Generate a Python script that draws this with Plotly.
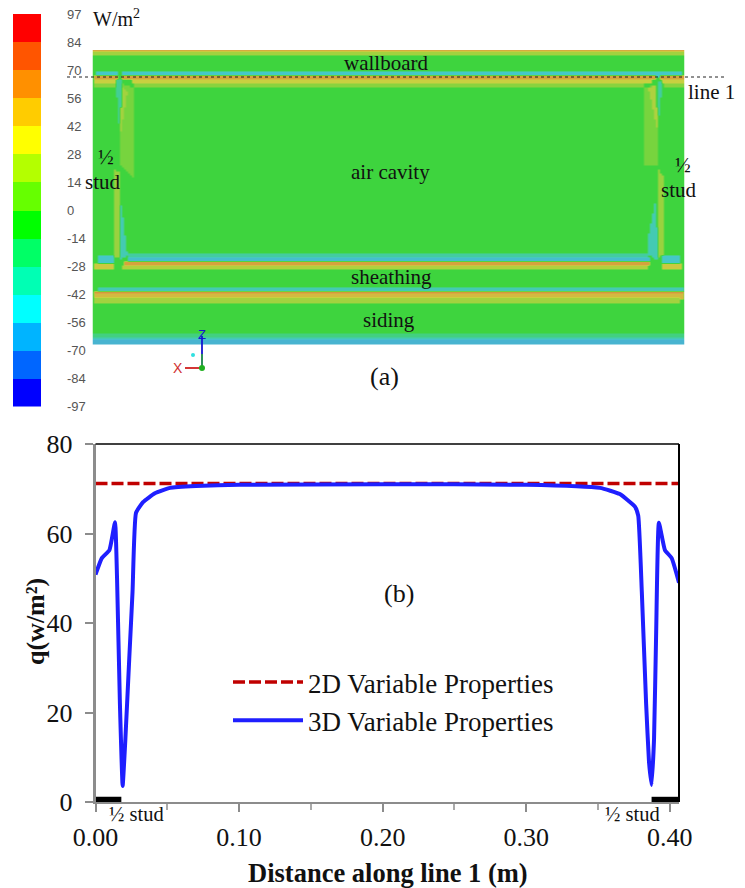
import numpy as np
import plotly.graph_objects as go

W, H = 745, 888

# ---------- data ----------
flux_x = [0, .0044, .0097, .0136, .0150, .0170, .0189, .0208, .0235, .0258, .0282, .0331, .0414, .052, .07,
          .10, .20, .30, .3513, .3652, .3757, .378, .3805, .3835, .3855, .3873, .3890, .3905, .3924, .3966, .4013, .4064]
flux_y = [50.8, 54.5, 56.3, 62.5, 50, 22, 3.6, 14, 32, 47, 64.6, 67, 69, 70.2, 70.6,
          70.9, 71, 70.9, 70.2, 68.8, 66, 64, 47, 22, 9, 3.8, 14, 38, 62.4, 56.3, 54.5, 49]
model2d_x = [0, .4064]
model2d_y = [71.2, 71.2]
stud_left_x = [-.001, .018]
stud_right_x = [.3873, .4064]
stud_y = [.55, .55]
x_ticks = [0, .10, .20, .30, .40]
x_labels = ["0.00", "0.10", "0.20", "0.30", "0.40"]
x_minor = [.05, .15, .25, .35]
y_ticks = [0, 20, 40, 60, 80]

scale_labels = ["97", "84", "70", "56", "42", "28", "14", "0", "-14", "-28", "-42", "-56", "-70", "-84", "-97"]
scale_colors = ["#ff0000", "#ff5500", "#ff9000", "#ffcc00", "#ffff00", "#b4ff00", "#66ff00",
                "#00ff00", "#00ff66", "#00ffb4", "#00ffff", "#00b4ff", "#0066ff", "#0000ff"]

# contour map: (x0, x1, y0, y1, level) in panel coordinates
contour_rects = [
    (92, 685, 50, 53, .85), (92, 685, 53, 56, .45),
    (95, 117, 73, 77, -.6), (122, 658, 73, 77, -.6), (658, 682, 73, 77, -.6),
    (93, 117, 77, 80, .9), (93, 117, 80, 84, .6), (93, 117, 84, 88, .35),
    (122, 655, 77, 80, .9), (131, 652, 80, 84, .6), (133, 644, 84, 88, .35),
    (660, 685, 77, 80, .9), (662, 685, 80, 84, .6), (664, 685, 84, 88, .35),
    (127, 648, 254, 258, -.4), (127, 650, 258, 263, -.7),
    (124, 650, 263, 266, .9), (122, 648, 266, 270, .5),
    (97, 113, 257, 263, -.6), (662, 680, 257, 263, -.6),
    (93, 114, 264, 270, .65), (661, 682, 264, 270, .65),
    (97, 683, 288, 292, -.5), (93, 683, 292, 295, .95), (93, 683, 295, 299, .75), (93, 680, 299, 304, .45),
    (92, 685, 335, 338, -.25), (92, 685, 338, 341, -.5), (92, 685, 341, 345, -.8),
]
contour_polys = [
    ([(120, 82), (133, 88), (133, 177), (120, 165)], .28),
    ([(120, 84), (127, 92), (120, 135)], .45),
    ([(116, 80), (121, 80), (120, 135), (117, 112)], -.35),
    ([(113, 168), (119, 172), (119, 258), (113, 258)], .42),
    ([(119, 205), (121, 205), (127, 255), (119, 260)], -.5),
    ([(643, 88), (656, 84), (657, 130), (657, 166), (643, 164)], .28),
    ([(648, 88), (656, 84), (657, 130)], .5),
    ([(657, 82), (662, 82), (657, 130)], -.4),
    ([(657, 168), (663, 175), (663, 254), (657, 258)], .42),
    ([(656, 195), (648, 235), (648, 254), (657, 260)], -.5),
]
contour_colors = [[0, "#4a9fd8"], [.2, "#45c8c8"], [.38, "#42d07e"], [.5, "#3ed43e"],
                  [.65, "#7bd43e"], [.8, "#c8d040"], [.92, "#d8ac40"], [1, "#d09038"]]

# ---------- layout helpers ----------
def px(x): return x / W
def py(y): return 1 - y / H

plot_l, plot_r, plot_t, plot_b = 95.5, 679, 444, 802
map_l, map_r, map_t, map_b = 92.5, 684.5, 50, 344.5
bar_l, bar_r, bar_t, bar_b = 13, 41, 14, 406.5

# ---------- contour grid ----------
step = 2
gx = np.arange(map_l, map_r + .1, step)
gy = np.arange(map_t, map_b + .1, step)
XX, YY = np.meshgrid(gx, gy)
Z = np.zeros_like(XX)
for x0, x1, y0, y1, v in contour_rects:
    Z[(XX >= x0) & (XX < x1) & (YY >= y0 - 1) & (YY < y1)] = v
for verts, v in contour_polys:
    inside = np.zeros_like(XX, dtype=bool)
    n = len(verts)
    for i in range(n):
        x1, y1 = verts[i]
        x2, y2 = verts[(i + 1) % n]
        cond = (y1 > YY) != (y2 > YY)
        inside ^= cond & (XX < (x2 - x1) * (YY - y1) / (y2 - y1 + 1e-9) + x1)
    Z[inside] = v

fig = go.Figure()

# contour map
fig.add_trace(go.Heatmap(x=gx, y=gy, z=Z, xaxis="x2", yaxis="y2", zmin=-1, zmax=1, zsmooth="best",
                         colorscale=contour_colors, showscale=False, hoverinfo="skip"))

# colour scale bar (row 0 is the lowest cell)
n = len(scale_colors)
cs = []
for i, c in enumerate(scale_colors[::-1]):
    cs += [[i / n, c], [(i + 1) / n, c]]
fig.add_trace(go.Heatmap(x=[0, 1], y=list(range(n + 1)), z=[[i + .5] for i in range(n)], xaxis="x3", yaxis="y3",
                         zmin=0, zmax=n, colorscale=cs, showscale=False, hoverinfo="skip"))

# chart
fig.add_trace(go.Scatter(x=model2d_x, y=model2d_y, mode="lines", name="2D Variable Properties",
                         legendgroup="a", line=dict(color="#c00000", width=3.5, dash="12px,4px")))
fig.add_trace(go.Scatter(x=flux_x, y=flux_y, mode="lines", name="3D Variable Properties",
                         legendgroup="b", line=dict(color="#1f1fff", width=4, shape="spline", smoothing=.4)))
for sx in (stud_left_x, stud_right_x):
    fig.add_trace(go.Scatter(x=sx, y=stud_y, mode="lines", showlegend=False,
                             line=dict(color="black", width=5.5), cliponaxis=False))

serif = "Liberation Serif, Times New Roman, serif"
sans = "Liberation Sans, Arial, sans-serif"

# full-page overlay axes (x4, y4) measure the notes in page pixels
def note(x, y, text, size=21, color="#111", font=serif, **kw):
    return dict(xref="x4", yref="y4", x=x, y=y, text=text, showarrow=False,
                font=dict(family=font, size=size, color=color), xanchor="center", yanchor="middle", **kw)

annotations = [
    note(116, 18, "W/m<sup>2</sup>", 20),
    note(386, 63, "wallboard"),
    note(711, 92, "line 1"),
    note(390, 172, "air cavity"),
    note(106, 157, "½"),
    note(102.5, 182, "stud"),
    note(683, 165, "½"),
    note(679, 190, "stud"),
    note(391, 277, "sheathing"),
    note(389, 320, "siding"),
    note(384, 376, "(a)", 26),
    note(399, 593, "(b)", 26),
    note(136, 814, "½ stud", 20.5),
    note(632, 814, "½ stud", 20.5),
    note(178, 368, "X", 14, "#d03030", sans),
    note(202, 334, "Z", 13, "#1515d0", sans),
    note(388, 873, "<b>Distance along line 1 (m)</b>", 26.5),
    note(35, 622, "<b>q(w/m²)</b>", 26, textangle=-90),
]

def seg(x0, y0, x1, y1, color, width, dash=None):
    return dict(type="line", xref="x4", yref="y4", x0=x0, y0=y0, x1=x1, y1=y1,
                line=dict(color=color, width=width, dash=dash), layer="above")

def dot(cx, cy, r, color):
    return dict(type="circle", xref="x4", yref="y4", x0=cx - r, x1=cx + r, y0=cy - r, y1=cy + r,
                fillcolor=color, line=dict(width=0), layer="above")

shapes = [
    seg(67, 77, 725, 77, "#222", 1, "dot"),
    seg(plot_r, plot_t, plot_r, plot_b, "black", 2),
    seg(plot_l, plot_t, plot_r, plot_t, "black", 1.5),
    seg(185, 368, 202, 368, "#d02020", 1.8),
    seg(202, 368, 202, 336, "#1515d0", 1.8),
    seg(202, 368, 202, 354, "#30b030", 1.5),
    dot(202, 368, 3, "#20b020"),
    dot(193, 355, 2, "#30e0e0"),
]

fig.update_layout(
    width=W, height=H, margin=dict(l=0, r=0, t=0, b=0, autoexpand=False), paper_bgcolor="white",
    plot_bgcolor="rgba(0,0,0,0)",
    font=dict(family=serif, color="#111"),
    annotations=annotations, shapes=shapes,
    showlegend=True,
    legend=dict(x=px(228), y=py(658), xanchor="left", yanchor="top", bgcolor="rgba(0,0,0,0)",
                font=dict(family=serif, size=27, color="#111"), itemwidth=70, tracegroupgap=0,
                traceorder="grouped"),
    xaxis=dict(domain=[px(plot_l), px(plot_r)], range=[0, .4064], tickvals=x_ticks, ticktext=x_labels,
               ticks="outside", ticklen=8, tickcolor="#8c8c8c", tickwidth=1.5, showgrid=False, zeroline=False,
               minor=dict(tickvals=x_minor, ticks="outside", ticklen=6, tickcolor="#aaaaaa", tickwidth=1.5),
               showline=True, linecolor="#8c8c8c", linewidth=2, tickfont=dict(size=26, family=serif, color="#111"),
               ticklabelstandoff=3, anchor="y"),
    yaxis=dict(domain=[py(plot_b), py(plot_t)], range=[0, 80], tickvals=y_ticks,
               ticks="outside", ticklen=8, tickcolor="#8c8c8c", tickwidth=1.5, showgrid=False, zeroline=False,
               showline=True, linecolor="#8c8c8c", linewidth=2.5, tickfont=dict(size=26, family=serif, color="#111"),
               ticklabelstandoff=7, anchor="x"),
    xaxis2=dict(domain=[px(map_l), px(map_r)], range=[map_l, map_r], visible=False, anchor="y2"),
    yaxis2=dict(domain=[py(map_b), py(map_t)], range=[map_b, map_t], visible=False, anchor="x2"),
    xaxis3=dict(domain=[px(bar_l), px(bar_r)], range=[0, 1], visible=False, anchor="y3"),
    yaxis3=dict(domain=[py(bar_b), py(bar_t)], range=[0, n], side="right", anchor="x3",
                tickvals=list(range(n + 1)), ticktext=scale_labels[::-1], ticks="", showgrid=False, zeroline=False,
                showline=False, ticklabelstandoff=25,
                tickfont=dict(family=sans, size=13, color="#555")),
    xaxis4=dict(domain=[0, 1], range=[0, W], visible=False, anchor="y4", fixedrange=True),
    yaxis4=dict(domain=[0, 1], range=[H, 0], visible=False, anchor="x4", fixedrange=True),
)

fig.write_html("out.html", config=dict(displayModeBar=False),
               post_script="document.body.style.margin='0';document.body.style.overflow='hidden';")
